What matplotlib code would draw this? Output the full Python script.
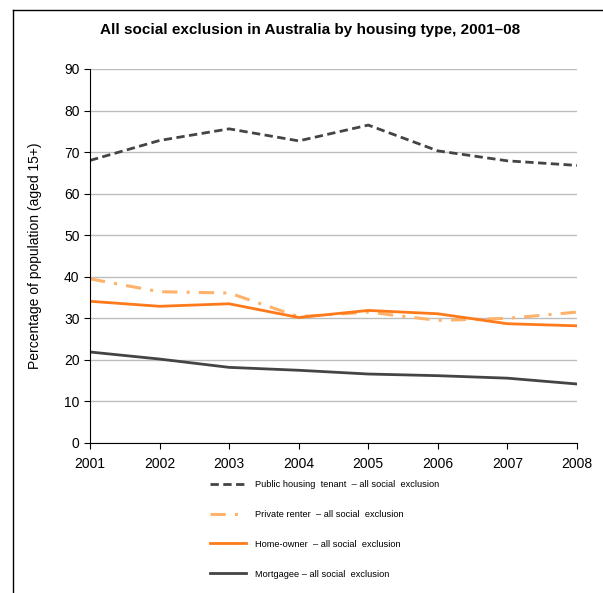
import matplotlib
matplotlib.use("Agg")
import matplotlib.pyplot as plt
from matplotlib.lines import Line2D

plt.rcParams['font.family'] = ['Liberation Sans', 'DejaVu Sans']

# Data
years = [2001, 2002, 2003, 2004, 2005, 2006, 2007, 2008]
public_tenant = [68.0, 72.8, 75.6, 72.7, 76.5, 70.3, 67.9, 66.8]
private_renter = [39.5, 36.4, 36.1, 30.4, 31.5, 29.5, 30.0, 31.5]
home_owner = [34.1, 32.9, 33.5, 30.2, 31.9, 31.1, 28.7, 28.2]
mortgagee = [21.9, 20.2, 18.2, 17.5, 16.6, 16.2, 15.6, 14.2]

labels = [
    "Public housing  tenant  \u2013 all social  exclusion",
    "Private renter  \u2013 all social  exclusion",
    "Home-owner  \u2013 all social  exclusion",
    "Mortgagee \u2013 all social  exclusion",
]

dark = "#444444"
light_orange = "#FFB26B"
orange = "#FF7A1A"

fig = plt.figure(figsize=(6.03, 5.93), dpi=100)
ax = fig.add_axes([90 / 603, 1 - 443 / 593, 487 / 603, 374 / 593])

ax.plot(years, public_tenant, color=dark, lw=2, ls=(0, (3, 1.6)), label=labels[0])
ax.plot(years, private_renter, color=light_orange, lw=2.2, ls=(0, (5, 3, 1, 3)), label=labels[1])
ax.plot(years, home_owner, color=orange, lw=2, label=labels[2])
ax.plot(years, mortgagee, color=dark, lw=2, label=labels[3])

ax.set_xlim(2001, 2008)
ax.set_ylim(0, 90)
ax.set_yticks(range(0, 91, 10))
ax.set_xticks(years)
ax.yaxis.grid(True, color="#BDBDBD", lw=1)
ax.set_axisbelow(True)
for s in ["top", "right"]:
    ax.spines[s].set_visible(False)
ax.spines["left"].set_color("black")
ax.spines["bottom"].set_color("black")
ax.tick_params(axis="both", labelsize=10, length=4, direction="out", color="black")
ax.tick_params(axis="x", pad=6)
ax.set_ylabel("Percentage of population (aged 15+)", fontsize=10, labelpad=16)

fig.text(310 / 603, 1 - 30 / 593, "All social exclusion in Australia by housing type, 2001\u201308",
         ha="center", va="center", fontsize=11, fontweight="bold")

leg = fig.legend(loc="upper left", bbox_to_anchor=(210 / 603, 1 - 480 / 593),
                 frameon=False, fontsize=6.7, handlelength=3.9, handletextpad=0.9,
                 labelspacing=2.24, borderaxespad=0, borderpad=0)

# outer frame (partly cropped in the original)
fig.add_artist(Line2D([13 / 603, 13 / 603], [0, 1 - 10 / 593], transform=fig.transFigure, color="black", lw=1))
fig.add_artist(Line2D([13 / 603, 1], [1 - 10 / 593, 1 - 10 / 593], transform=fig.transFigure, color="black", lw=1))

fig.savefig("out.png", dpi=100)
